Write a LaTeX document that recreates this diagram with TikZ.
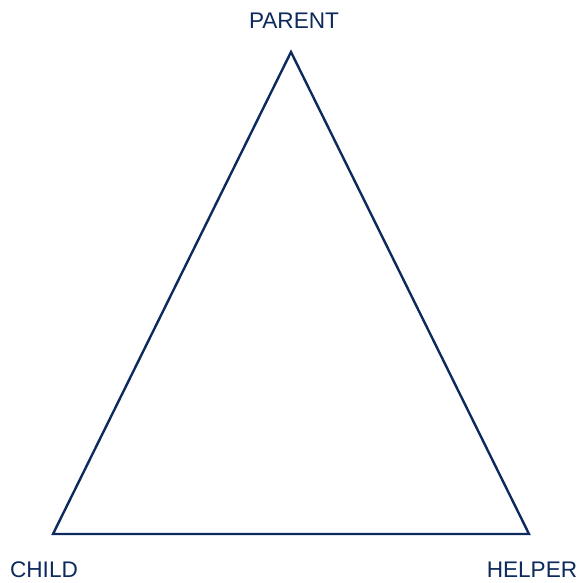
\documentclass[tikz,border=0pt]{standalone}
\usepackage{fontspec}
\setmainfont{Liberation Sans}
\definecolor{navy}{RGB}{12,42,92}
\begin{document}
\begin{tikzpicture}[x=1pt,y=-1pt,
  lbl/.style={text=navy,font=\fontsize{22.6}{26}\selectfont,inner sep=0pt,anchor=base},
  edge/.style={draw=navy,line width=2.4pt,line join=miter}]
\useasboundingbox (0,0) rectangle (580,583);
\coordinate (p) at (291,52);
\coordinate (c) at (53,534);
\coordinate (h) at (529,534);
\draw[edge] (p) -- (c) -- (h) -- cycle;
\node[lbl] (parent) at (294,29) {PARENT};
\node[lbl] (child) at (44,577) {CHILD};
\node[lbl] (helper) at (532,577) {HELPER};
\end{tikzpicture}
\end{document}
